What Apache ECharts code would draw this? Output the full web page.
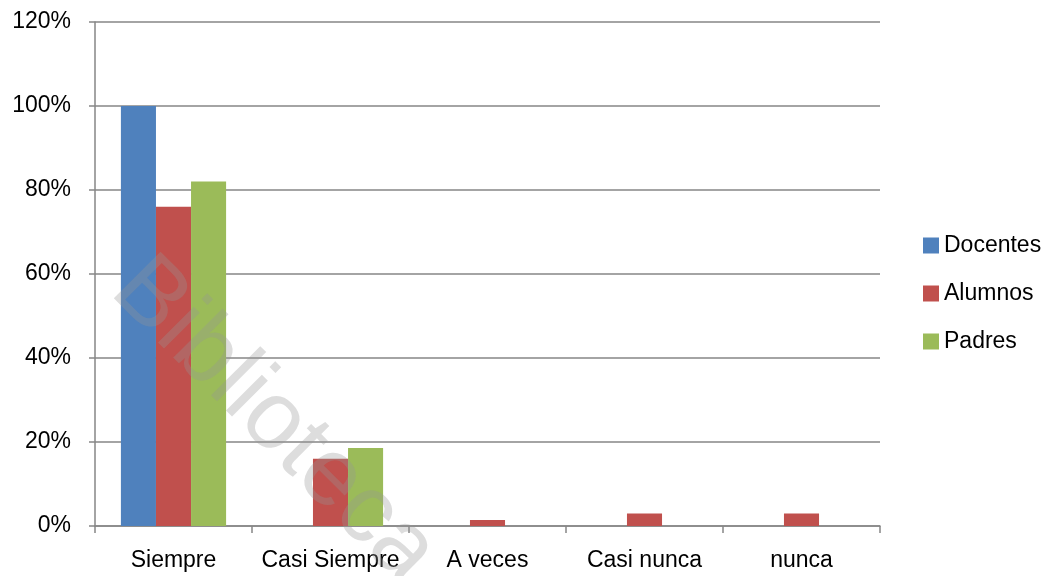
<!DOCTYPE html>
<html>
<head>
<meta charset="utf-8">
<script src="https://cdn.jsdelivr.net/npm/echarts@6/dist/echarts.min.js"></script>
<style>
  html, body { margin: 0; padding: 0; background: #fff; }
  #main { width: 1052px; height: 576px; }
</style>
</head>
<body>
<div id="main"></div>
<script>
// data
const categories = ['Siempre', 'Casi Siempre', 'A veces', 'Casi nunca', 'nunca'];
const docentes = [100, 0, 0, 0, 0];
const alumnos = [76, 16, 1.4, 3, 3];
const padres = [82, 18.6, 0, 0, 0];

const chart = echarts.init(document.getElementById('main'));
const font = 'Liberation Sans, Arial, sans-serif';
const gray = '#868686';

const option = {
  animation: false,
  textStyle: { fontFamily: font },
  grid: { left: 95, right: 172, top: 22, bottom: 50 },
  legend: {
    orient: 'vertical',
    left: 918,
    top: 229,
    itemWidth: 16,
    itemHeight: 16,
    itemGap: 25,
    icon: 'rect',
    textStyle: { fontSize: 23, color: '#000', fontFamily: font },
    data: ['Docentes', 'Alumnos', 'Padres']
  },
  xAxis: {
    type: 'category',
    data: categories,
    axisLine: { lineStyle: { color: gray, width: 1.5 } },
    axisTick: { show: true, length: 7, lineStyle: { color: gray, width: 1.5 } },
    axisLabel: { color: '#000', fontSize: 23, margin: 23, interval: 0, fontFamily: font }
  },
  yAxis: {
    type: 'value',
    min: 0,
    max: 120,
    interval: 20,
    axisLine: { show: true, lineStyle: { color: gray, width: 1.5 } },
    axisTick: { show: true, length: 6, lineStyle: { color: gray, width: 1.5 } },
    axisLabel: { color: '#000', fontSize: 23, margin: 24, formatter: '{value}%', fontFamily: font },
    splitLine: { lineStyle: { color: gray, width: 1.5 } }
  },
  series: [
    { name: 'Docentes', type: 'bar', data: docentes, barGap: '0%', barCategoryGap: '33%', itemStyle: { color: '#4F81BD' } },
    { name: 'Alumnos', type: 'bar', data: alumnos, itemStyle: { color: '#C0504D' } },
    { name: 'Padres', type: 'bar', data: padres, itemStyle: { color: '#9BBB59' } }
  ],
  graphic: [
    {
      type: 'text',
      x: 127,
      y: 274,
      rotation: -Math.PI / 4,
      z: 100,
      silent: true,
      style: {
        text: 'Biblioteca',
        fontSize: 96,
        fontFamily: font,
        fill: 'rgba(150,150,150,0.32)',
        textAlign: 'left',
        textVerticalAlign: 'middle'
      }
    }
  ]
};

chart.setOption(option);
</script>
</body>
</html>
